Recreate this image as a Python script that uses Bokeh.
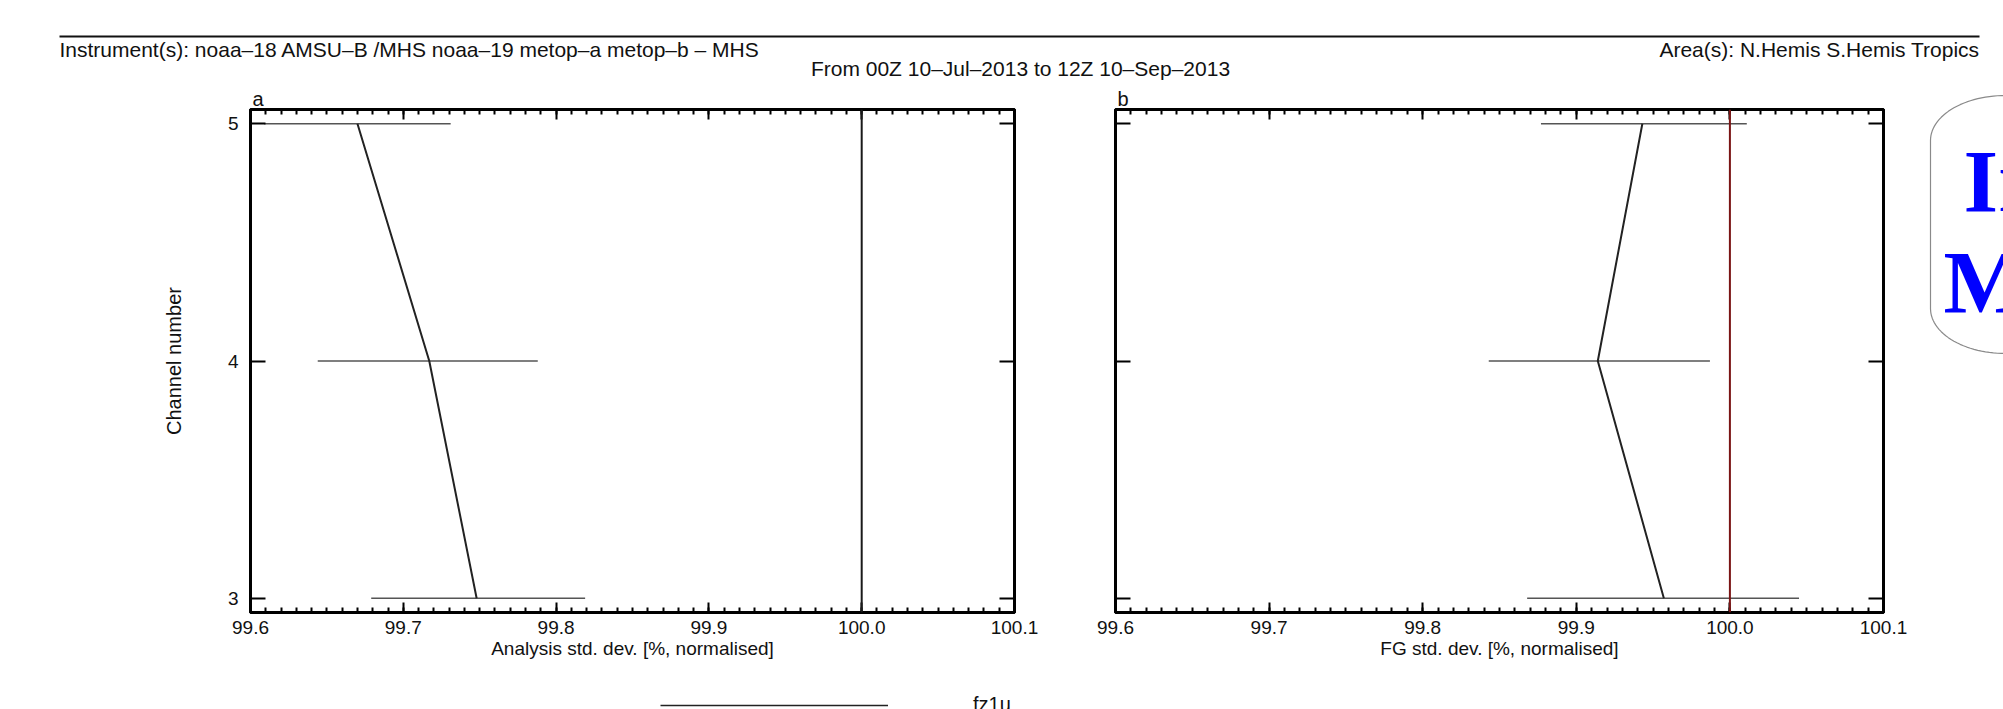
import numpy as np
from bokeh.plotting import figure
from bokeh.models import (Range1d, LinearAxis, FixedTicker, PrintfTickFormatter,
                          Label, Legend, LegendItem, Span, ColumnDataSource, Title)
from bokeh.layouts import column, row
from bokeh.embed import file_html
from bokeh.resources import INLINE

# ---------------- data ----------------
channels = [5, 4, 3]
an_mean = [99.670, 99.717, 99.748]
an_lo = [99.609, 99.644, 99.679]
an_hi = [99.731, 99.788, 99.819]
fg_mean = [99.943, 99.914, 99.957]
fg_lo = [99.877, 99.843, 99.868]
fg_hi = [100.011, 99.987, 100.045]
ref_value = 100.0
x_ticks = [99.6, 99.7, 99.8, 99.9, 100.0, 100.1]
y_ticks = [3, 4, 5]
panel_letters = ["a", "b"]
x_titles = ["Analysis std. dev. [%, normalised]", "FG std. dev. [%, normalised]"]
y_title = "Channel number"
title_instr = "Instrument(s): noaa\u201318 AMSU\u2013B /MHS noaa\u201319 metop\u2013a metop\u2013b \u2013 MHS"
title_area = "Area(s): N.Hemis S.Hemis Tropics"
title_period = "From 00Z 10\u2013Jul\u20132013 to 12Z 10\u2013Sep\u20132013"
legend_label = "fz1u"
badge_lines = ["In", "M"]

FONT = "Liberation Sans"
minor = [float(v) for v in np.round(np.arange(99.6, 100.1001, 0.01), 2)]


def styled_axis(ax, kind, labels):
    ax.axis_line_width = 3
    ax.axis_line_color = "black"
    ax.major_tick_line_width = 2
    ax.minor_tick_line_width = 2
    ax.major_tick_out = 0
    ax.minor_tick_out = 0
    if kind == "x":
        ax.major_tick_in = 10
        ax.minor_tick_in = 5
    else:
        ax.major_tick_in = 15
        ax.minor_tick_in = 0
    ax.major_label_text_font = FONT
    ax.major_label_text_color = "#111111"
    if labels:
        ax.major_label_text_font_size = "19px"
    else:
        ax.major_label_text_font_size = "1px"
        ax.major_label_text_color = None
        ax.major_label_standoff = 0
    ax.axis_label_text_font = FONT
    ax.axis_label_text_font_style = "normal"
    ax.axis_label_text_color = "#111111"
    return ax


def make_x_axis(labels, title=None):
    ax = LinearAxis(ticker=FixedTicker(ticks=x_ticks, minor_ticks=minor),
                    formatter=PrintfTickFormatter(format="%.1f"))
    styled_axis(ax, "x", labels)
    if labels:
        ax.major_label_standoff = 8
    if title:
        ax.axis_label = title
        ax.axis_label_text_font_size = "19px"
        ax.axis_label_standoff = 1
    return ax


def make_y_axis(labels, title=None):
    ax = LinearAxis(ticker=FixedTicker(ticks=y_ticks, minor_ticks=[]))
    styled_axis(ax, "y", labels)
    if labels:
        ax.major_label_standoff = 12
    if title:
        ax.axis_label = title
        ax.axis_label_text_font_size = "20px"
        ax.axis_label_standoff = 40
    return ax


def make_panel(mean, lo, hi, letter, xtitle, ref_color, first, width, bl, br):
    p = figure(width=width, height=585, x_range=Range1d(99.6, 100.1),
               y_range=Range1d(2.94, 5.06), x_axis_type=None, y_axis_type=None,
               output_backend="svg", toolbar_location=None, title=None,
               min_border_left=bl, min_border_right=br,
               min_border_top=24, min_border_bottom=58)
    p.outline_line_color = "black"
    p.outline_line_width = 3
    p.background_fill_color = "white"
    p.border_fill_color = "white"

    # axes first (closest to the frame), then the panel letter above them
    p.add_layout(make_x_axis(True, xtitle), "below")
    p.add_layout(make_x_axis(False), "above")
    p.add_layout(make_y_axis(first, y_title if first else None), "left")
    p.add_layout(make_y_axis(False), "right")
    p.add_layout(Title(text=letter, align="left", text_font=FONT,
                       text_font_size="20px", text_font_style="normal",
                       text_color="#111111", standoff=0, offset=2), "above")

    src = ColumnDataSource(dict(ch=channels, mean=mean, lo=lo, hi=hi))
    p.segment(x0="lo", y0="ch", x1="hi", y1="ch", source=src,
              line_color="#555555", line_width=1.6)
    p.line(x="mean", y="ch", source=src, line_color="#222222", line_width=2)
    p.add_layout(Span(location=ref_value, dimension="height",
                      line_color=ref_color, line_width=2))
    return p


p1 = make_panel(an_mean, an_lo, an_hi, panel_letters[0], x_titles[0],
                "#1a1a1a", True, 1065, 250, 51)
p2 = make_panel(fg_mean, fg_lo, fg_hi, panel_letters[1], x_titles[1],
                "#7a1414", False, 850, 50, 32)


def blank(width, height, xr, yr):
    f = figure(width=width, height=height, x_range=Range1d(*xr),
               y_range=Range1d(*yr), x_axis_type=None, y_axis_type=None,
               output_backend="svg", toolbar_location=None, title=None,
               min_border=0, outline_line_color=None)
    f.min_border_left = f.min_border_right = 0
    f.min_border_top = f.min_border_bottom = 0
    f.frame_align = False
    return f


# ---------------- header ----------------
header = blank(2003, 85, (0, 2003), (85, 0))
header.line(x=[59, 1979], y=[36, 36], line_color="#111111", line_width=2)
header.add_layout(Label(x=59, y=49, text=title_instr, text_align="left",
                        text_baseline="middle", text_font=FONT,
                        text_font_size="21px", text_color="#111111"))
header.add_layout(Label(x=1979, y=49, text=title_area, text_align="right",
                        text_baseline="middle", text_font=FONT,
                        text_font_size="21px", text_color="#111111"))
header.add_layout(Label(x=1020, y=68, text=title_period, text_align="center",
                        text_baseline="middle", text_font=FONT,
                        text_font_size="21px", text_color="#111111"))

# ---------------- side badge (page pixel coordinates) ----------------
deco = blank(88, 585, (1915, 2003), (670, 85))
bx0, by0, by1, rx, ry = 1930, 95, 353, 75, 45
t1 = np.linspace(np.pi, 1.5 * np.pi, 30)
t2 = np.linspace(0.5 * np.pi, np.pi, 30)
px = list(bx0 + rx + rx * np.cos(t1)) + [2150, 2150] + list(bx0 + rx + rx * np.cos(t2))
py = list(by0 + ry + ry * np.sin(t1)) + [by0, by1] + list(by1 - ry + ry * np.sin(t2))
deco.patch(px, py, fill_color="white", line_color="#8a8a8a", line_width=1.2)
deco.add_layout(Label(x=1963, y=180, text=badge_lines[0], text_align="left",
                      text_baseline="middle", text_font="Liberation Serif",
                      text_font_style="bold", text_font_size="89px",
                      text_color="#0000ff"))
deco.add_layout(Label(x=1943, y=281, text=badge_lines[1], text_align="left",
                      text_baseline="middle", text_font="Liberation Serif",
                      text_font_style="bold", text_font_size="89px",
                      text_color="#0000ff"))

# ---------------- footer legend ----------------
footer = blank(2003, 39, (0, 2003), (0, 39))
r = footer.line(x=[float("nan")], y=[float("nan")], line_color="#222222",
                line_width=1.6)
leg = Legend(items=[LegendItem(label=legend_label, renderers=[r])],
             location=(660, -7), orientation="horizontal",
             glyph_width=228, glyph_height=20, label_standoff=85,
             padding=0, margin=0, border_line_color=None,
             background_fill_alpha=0, label_text_font=FONT,
             label_text_font_size="20px", label_text_color="#111111")
footer.add_layout(leg)

layout = column(header, row(p1, p2, deco), footer)
open("out.html", "w").write(file_html(layout, INLINE))
